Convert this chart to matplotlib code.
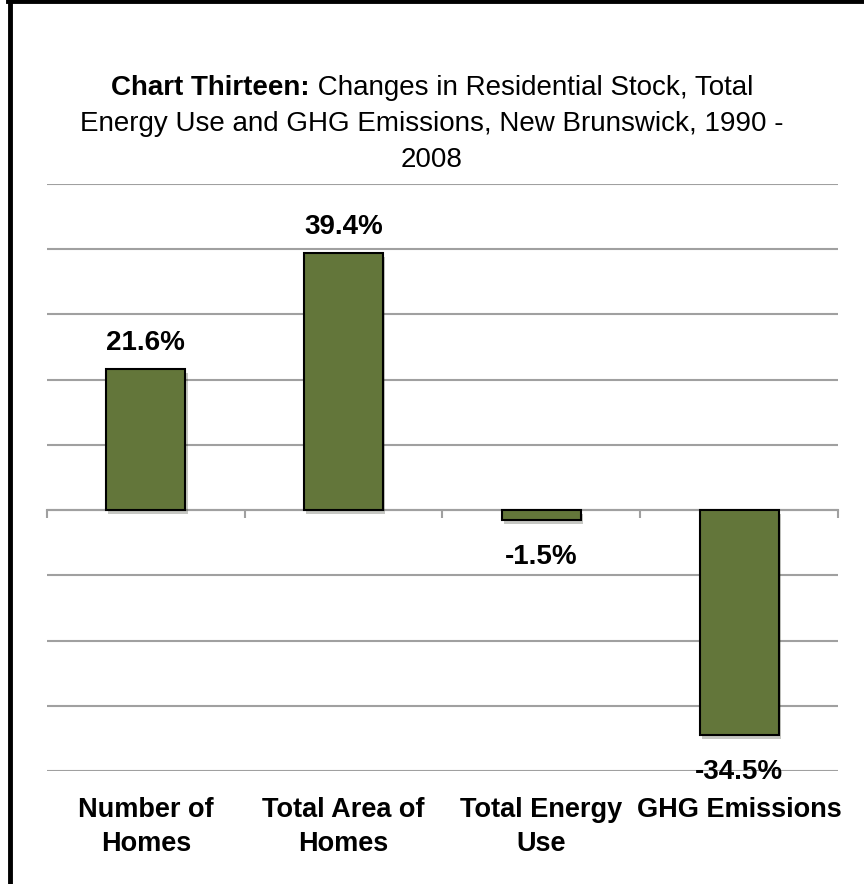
import matplotlib
matplotlib.use('Agg')
import matplotlib.pyplot as plt
import matplotlib.patheffects as pe
from matplotlib.lines import Line2D

categories = ['Number of\nHomes', 'Total Area of\nHomes', 'Total Energy\nUse', 'GHG Emissions']
changes = [21.6, 39.4, -1.5, -34.5]
labels = ['21.6%', '39.4%', '-1.5%', '-34.5%']

plt.rcParams['font.family'] = ['Liberation Sans', 'DejaVu Sans']

fig = plt.figure(figsize=(8.64, 8.84), dpi=100)
ax = fig.add_axes([0.0544, 0.1278, 0.9155, 0.6641])

x = range(len(categories))
bars = ax.bar(x, changes, width=0.4, color='#63763a', edgecolor='black', linewidth=1.5,
              zorder=3)
for b in bars:
    b.set_path_effects([pe.SimplePatchShadow(offset=(1.5, -3), alpha=0.25), pe.Normal()])

ax.set_ylim(-40, 50)
ax.set_xlim(-0.5, 3.5)
ax.set_yticks(range(-40, 51, 10))
ax.yaxis.grid(True, color='#a0a0a0', linewidth=1.5, zorder=0)
ax.tick_params(axis='y', length=0, labelleft=False)
for s in ['left', 'right', 'top']:
    ax.spines[s].set_visible(False)
ax.spines['bottom'].set_position(('data', 0))
ax.spines['bottom'].set_color('#a0a0a0')
ax.spines['bottom'].set_linewidth(1.5)
ax.set_xticks([-0.5, 0.5, 1.5, 2.5, 3.5])
ax.tick_params(axis='x', direction='out', length=6, width=1.5, color='#a0a0a0',
               labelbottom=False)

for xi, v, lab in zip(x, changes, labels):
    if v >= 0:
        ax.annotate(lab, (xi, v), xytext=(0, 14), textcoords='offset points',
                    ha='center', va='baseline', fontsize=20, fontweight='bold')
    else:
        ax.annotate(lab, (xi, v), xytext=(0, -17), textcoords='offset points',
                    ha='center', va='top', fontsize=20, fontweight='bold')

for xi, cat in zip(x, categories):
    ax.text(xi, -0.045, cat, transform=ax.get_xaxis_transform(), ha='center', va='top',
            fontsize=19.5, fontweight='bold', linespacing=1.4)

# title: bold lead-in followed by normal text
fig.canvas.draw()
r = fig.canvas.get_renderer()
y1 = 1 - 95 / 884
t1 = fig.text(0, y1, 'Chart Thirteen:', fontsize=20, fontweight='bold', va='baseline')
t2 = fig.text(0, y1, ' Changes in Residential Stock, Total', fontsize=20, va='baseline')
w1 = t1.get_window_extent(r).width
w2 = t2.get_window_extent(r).width
x0 = (864 - w1 - w2) / 2
t1.set_x(x0 / 864)
t2.set_x((x0 + w1) / 864)
fig.text(0.5, 1 - 131 / 884, 'Energy Use and GHG Emissions, New Brunswick, 1990 -',
         fontsize=20, ha='center', va='baseline')
fig.text(0.5, 1 - 167 / 884, '2008', fontsize=20, ha='center', va='baseline')

# frame on left and top
fig.add_artist(Line2D([10 / 864, 10 / 864], [0, 1 - 1 / 884], color='black', linewidth=3.5))
fig.add_artist(Line2D([8 / 864, 1], [1 - 1 / 884, 1 - 1 / 884], color='black', linewidth=3.5))

fig.savefig('out.png', dpi=100)
